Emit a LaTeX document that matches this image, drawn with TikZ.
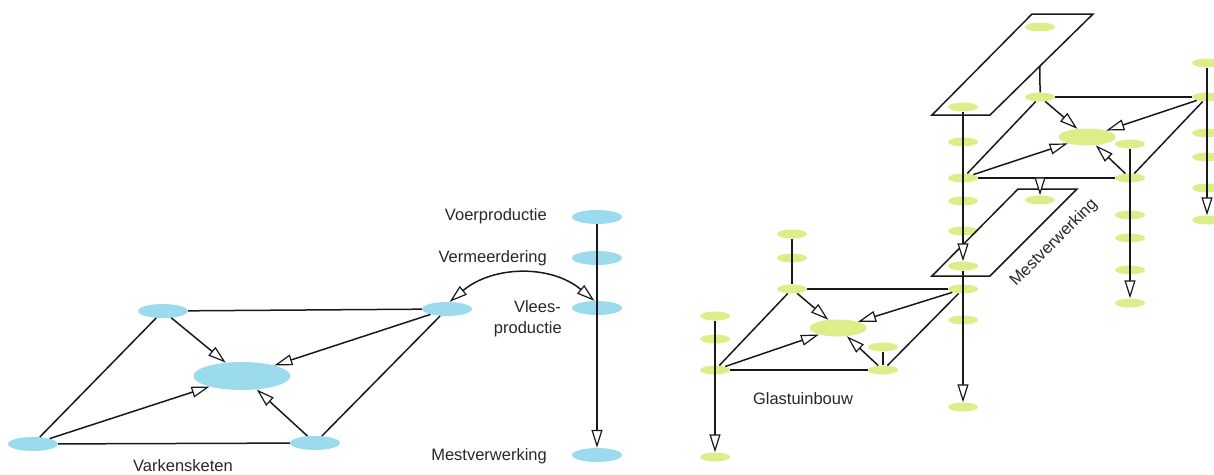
\documentclass[tikz,border=0pt]{standalone}
\usepackage{fontspec}
\setmainfont{Liberation Sans}
\usetikzlibrary{arrows.meta,calc,shapes.geometric}
\definecolor{pigblue}{RGB}{155,219,237}
\definecolor{glassgreen}{RGB}{220,238,138}
\definecolor{ink}{RGB}{25,25,25}
\definecolor{labelgray}{RGB}{40,40,40}
\begin{document}
\begin{tikzpicture}[x=1pt,y=-1pt,
  pig/.style={ellipse, fill=pigblue, draw=none, inner sep=0pt, minimum width=50pt, minimum height=14pt},
  pigbig/.style={pig, minimum width=97pt, minimum height=28pt},
  leaf/.style={ellipse, fill=glassgreen, draw=none, inner sep=0pt, minimum width=30pt, minimum height=9pt},
  leafbig/.style={leaf, minimum width=57pt, minimum height=17pt},
  link/.style={draw=ink, line width=1.5pt},
  tip/.tip={Triangle[length=18pt,width=11pt,fill=white,line width=1.2pt]},
  flow/.style={link, -tip},
  twoway/.style={link, tip-tip},
  lbl/.style={text=labelgray, font=\fontsize{16.5}{21}\selectfont, inner sep=0pt}
]
\useasboundingbox (0,0) rectangle (1214,474);

% ---------- Varkensketen ----------
\node[pig] (tl) at (163,311) {};
\node[pig] (tr) at (447,309) {};
\node[pig] (bl) at (33,444) {};
\node[pig] (br) at (315,443) {};
\node[pigbig] (pc) at (242,376) {};
\node[lbl, anchor=base] (vk) at (183,471) {Varkensketen};

\draw[link] (tl) -- (tr);
\draw[link] (tl) -- (bl);
\draw[link] (bl) -- (br);
\draw[link] (br) -- (tr);
\draw[flow] (tl) -- (pc);
\draw[flow] (tr) -- (pc);
\draw[flow] (bl) -- (pc);
\draw[flow] (br) -- (pc);

% ---------- production column ----------
\node[pig] (voer) at (597,217) {};
\node[pig] (verm) at (597,258) {};
\node[pig] (vlees) at (597,308) {};
\node[pig] (mest) at (597,455) {};
\node[lbl, anchor=base east] (lvoer) at (547,220) {Voerproductie};
\node[lbl, anchor=base east] (lverm) at (547,262) {Vermeerdering};
\node[lbl, anchor=base east] (lvl1) at (561,312) {Vlees-};
\node[lbl, anchor=base east] (lvl2) at (562,333) {productie};
\node[lbl, anchor=base east] (lmest) at (547,460) {Mestverwerking};

\draw[flow] (voer) -- (mest);
\draw[twoway] (tr.70) to[out=40,in=140] (vlees.110);

% ---------- Glastuinbouw ----------
\node[leaf] (ga1) at (792,234) {};
\node[leaf] (ga2) at (792,258) {};
\node[leaf] (ga) at (792,289) {};
\node[leaf] (gb1) at (715,316) {};
\node[leaf] (gb2) at (715,339) {};
\node[leaf] (gb) at (715,370) {};
\node[leaf] (gb3) at (715,457) {};
\node[leaf] (gc1) at (883,347) {};
\node[leaf] (gc) at (883,370) {};
\node[leafbig] (gcen) at (838,328) {};
\node[lbl, anchor=base] (lglas) at (803,404) {Glastuinbouw};

% ---------- central column ----------
\node[leaf] (k1) at (963,107) {};
\node[leaf] (k2) at (963,142) {};
\node[leaf] (k3) at (963,178) {};
\node[leaf] (k4) at (963,201) {};
\node[leaf] (k5) at (963,231) {};
\node[leaf] (k6) at (963,266) {};
\node[leaf] (k7) at (963,289) {};
\node[leaf] (k8) at (963,320) {};
\node[leaf] (k9) at (963,407) {};

% ---------- upper chain ----------
\node[leaf] (t1) at (1040,27) {};
\node[leaf] (e) at (1040,97) {};
\node[leafbig] (ucen) at (1087,137) {};
\node[leaf] (h1) at (1130,144) {};
\node[leaf] (h) at (1130,178) {};
\node[leaf] (h2) at (1130,215) {};
\node[leaf] (h3) at (1130,238) {};
\node[leaf] (h4) at (1130,270) {};
\node[leaf] (h5) at (1130,303) {};
\node[leaf] (m1) at (1040,200) {};
\node[leaf] (r1) at (1207,63) {};
\node[leaf] (f) at (1207,97) {};
\node[leaf] (r2) at (1207,133) {};
\node[leaf] (r3) at (1207,157) {};
\node[leaf] (r4) at (1207,188) {};
\node[leaf] (r5) at (1207,220) {};

% planes
\coordinate (pa1) at (932,115);
\coordinate (pa2) at (990,115);
\coordinate (pa3) at (1093,14);
\coordinate (pa4) at (1032,14);
\coordinate (pb1) at (932,276);
\coordinate (pb2) at (990,276);
\coordinate (pb3) at (1077,189);
\coordinate (pb4) at (1018,189);
\draw[link] (pa1) -- (pa2) -- (pa3) -- (pa4) -- cycle;
\draw[link] (pb1) -- (pb2) -- (pb3) -- (pb4) -- cycle;
\node[lbl, rotate=45] (lmv) at (1054,243) {Mestverwerking};
\coordinate (pe) at ($(pa3)!0.515!(pa2)$);

% glasshouse links
\draw[link] (ga1) -- (ga);
\draw[flow] (gb1) -- (gb3);
\draw[link] (gc1) -- (gc);
\draw[link] (ga) -- (k7);
\draw[link] (ga) -- (gb);
\draw[link] (gb) -- (gc);
\draw[link] (gc) -- (k7);
\draw[flow] (ga) -- (gcen);
\draw[flow] (k7) -- (gcen);
\draw[flow] (gb) -- (gcen);
\draw[flow] (gc) -- (gcen);

% central column links
\draw[flow] (k1) -- (k6);
\draw[flow] (k6) -- (k9);

% upper chain links
\draw[link] (pe) -- (e);
\draw[link] (e) -- (f);
\draw[link] (e) -- (k3);
\draw[link] (k3) -- (h);
\draw[link] (h) -- (f);
\draw[flow] (e) -- (ucen);
\draw[flow] (f) -- (ucen);
\draw[flow] (k3) -- (ucen);
\draw[flow] (h) -- (ucen);
\draw[flow] (h1) -- (h5);
\draw[flow] (r1) -- (r5);
\draw[flow] (m1 |- k3) -- (m1);
\end{tikzpicture}
\end{document}
